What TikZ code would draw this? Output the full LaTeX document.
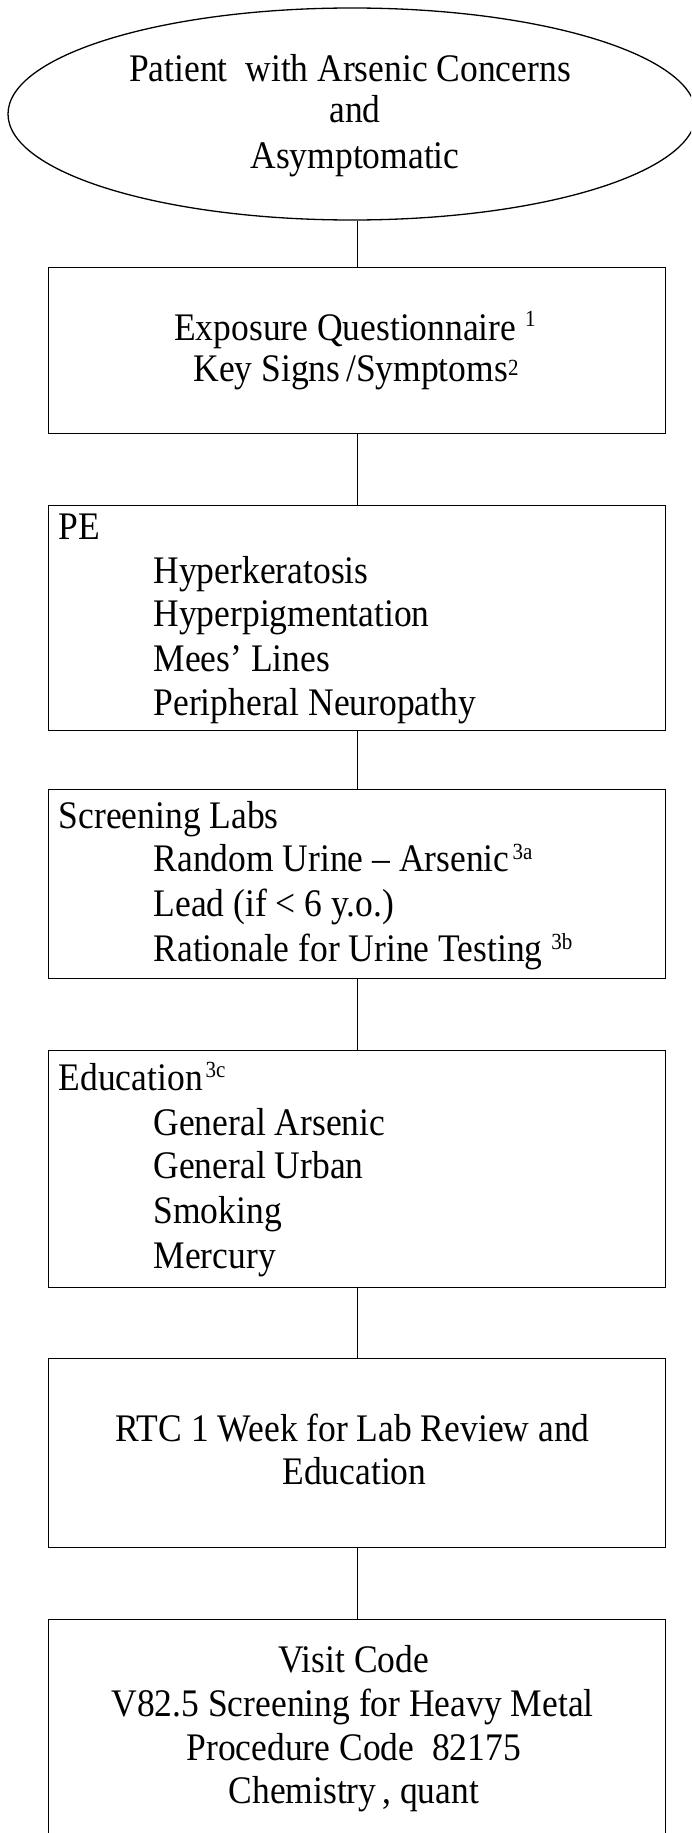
\documentclass[tikz,border=0pt]{standalone}
\usepackage{fontspec}
\usepackage{graphicx}
\setmainfont{Liberation Serif}
\usetikzlibrary{shapes.geometric}
\newcommand\fs{\fontsize{35.5pt}{42pt}\selectfont}
\newcommand\tl[1]{\scalebox{1}[1.1]{#1}}
\newcommand\supnum[2][11pt]{\raisebox{#1}{\fontsize{21pt}{21pt}\selectfont #2}}
\tikzset{
  stepbox/.style={draw, line width=1.3pt, minimum width=617pt, anchor=north west, inner sep=0pt},
  ctxt/.style={inner sep=0pt, anchor=base, font=\fs},
  ltxt/.style={inner sep=0pt, anchor=base west, font=\fs},
  link/.style={line width=1.3pt}
}
\begin{document}
\begin{tikzpicture}[x=1pt,y=-1pt]
\useasboundingbox (0,0) rectangle (691,1833);
\clip (0,0) rectangle (691,1833);
\fill[white] (0,0) rectangle (691,1833);
% start ellipse
\node[draw, ellipse, line width=1.3pt, minimum width=688pt, minimum height=212pt, inner sep=0pt] (start) at (352,114) {};
\node[ctxt] (t0a) at (350,81.7) {\tl{Patient\ \ with Arsenic Concerns}};
\node[ctxt] (t0b) at (355,123) {\tl{and}};
\node[ctxt] (t0c) at (355,168) {\tl{Asymptomatic}};
% box 1
\node[stepbox, minimum height=166pt] (b1) at (48,267) {};
\node[ctxt] (t1a) at (355,340) {\tl{Exposure Questionnaire \supnum[12pt]{1}}};
\node[ctxt] (t1b) at (356,381.7) {\tl{Key Signs\,/Symptoms\supnum[6pt]{2}}};
% box 2
\node[stepbox, minimum height=225pt] (b2) at (48,505) {};
\node[ltxt] (t2a) at (58.6,539) {\tl{PE}};
\node[ltxt] (t2b) at (153.4,583.3) {\tl{Hyperkeratosis}};
\node[ltxt] (t2c) at (153.4,626.7) {\tl{Hyperpigmentation}};
\node[ltxt] (t2d) at (153.4,671.7) {\tl{Mees’ Lines}};
\node[ltxt] (t2e) at (153.4,715) {\tl{Peripheral Neuropathy}};
% box 3
\node[stepbox, minimum height=189pt] (b3) at (48,789) {};
\node[ltxt] (t3a) at (58.6,828.3) {\tl{Screening Labs}};
\node[ltxt] (t3b) at (153.4,871.7) {\tl{Random Urine – Arsenic\hspace{3pt}\supnum{3a}}};
\node[ltxt] (t3c) at (153.4,916.7) {\tl{Lead (if < 6 y.o.)}};
\node[ltxt] (t3d) at (153.4,961.7) {\tl{Rationale for Urine Testing \supnum{3b}}};
% box 4
\node[stepbox, minimum height=237pt] (b4) at (48,1050) {};
\node[ltxt] (t4a) at (58.6,1090) {\tl{Education\hspace{3pt}\supnum{3c}}};
\node[ltxt] (t4b) at (153.4,1135) {\tl{General Arsenic}};
\node[ltxt] (t4c) at (153.4,1178.3) {\tl{General Urban}};
\node[ltxt] (t4d) at (153.4,1223.3) {\tl{Smoking}};
\node[ltxt] (t4e) at (153.4,1268.5) {\tl{Mercury}};
% box 5
\node[stepbox, minimum height=189pt] (b5) at (48,1358) {};
\node[ctxt] (t5a) at (352.5,1441.5) {\tl{RTC 1 Week for Lab Review and}};
\node[ctxt] (t5b) at (354.5,1484.6) {\tl{Education}};
% box 6
\node[stepbox, minimum height=240pt] (b6) at (48,1618.5) {};
\node[ctxt] (t6a) at (353.7,1672) {\tl{Visit Code}};
\node[ctxt] (t6b) at (352.6,1716.5) {\tl{V82.5 Screening for Heavy Metal}};
\node[ctxt] (t6c) at (353.7,1760.8) {\tl{Procedure Code\ \ 82175}};
\node[ctxt] (t6d) at (353.8,1803.8) {\tl{Chemistry\,, quant}};
% connectors
\draw[link] (start.south -| b1.north) -- (b1.north);
\draw[link] (b1.south) -- (b2.north);
\draw[link] (b2.south) -- (b3.north);
\draw[link] (b3.south) -- (b4.north);
\draw[link] (b4.south) -- (b5.north);
\draw[link] (b5.south) -- (b6.north);
\end{tikzpicture}
\end{document}
